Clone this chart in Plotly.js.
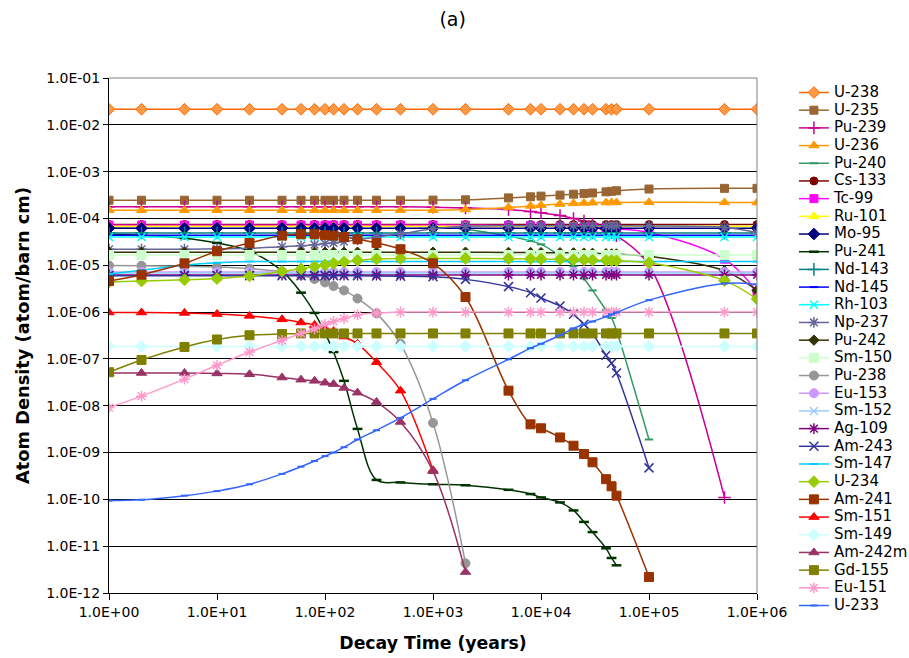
<!DOCTYPE html>
<html><head><meta charset="utf-8">
<script src="https://cdn.plot.ly/plotly-3.0.1.min.js"></script>
<style>html,body{margin:0;padding:0;background:#fff}#chart{width:909px;height:658px}</style>
</head><body><div id="chart"></div>
<script>
// Decay time points (years)
const years = [1,2,5,10,20,40,60,80,100,120,150,200,300,500,1000,2000,5000,8000,10000,15000,20000,25000,30000,40000,45000,50000,100000,500000,1000000];

const U238 = [2.15e-2,2.15e-2,2.15e-2,2.15e-2,2.15e-2,2.15e-2,2.15e-2,2.15e-2,2.15e-2,2.15e-2,2.15e-2,2.15e-2,2.15e-2,2.15e-2,2.15e-2,2.15e-2,2.15e-2,2.15e-2,2.15e-2,2.15e-2,2.15e-2,2.15e-2,2.15e-2,2.15e-2,2.15e-2,2.15e-2,2.15e-2,2.15e-2,2.15e-2];
const U235 = [2.45e-4,2.45e-4,2.45e-4,2.45e-4,2.45e-4,2.45e-4,2.45e-4,2.45e-4,2.45e-4,2.45e-4,2.45e-4,2.45e-4,2.45e-4,2.45e-4,2.47e-4,2.5e-4,2.75e-4,2.9e-4,3.0e-4,3.15e-4,3.3e-4,3.4e-4,3.5e-4,3.7e-4,3.8e-4,3.9e-4,4.25e-4,4.4e-4,4.4e-4];
const Pu239 = [1.78e-4,1.78e-4,1.78e-4,1.78e-4,1.78e-4,1.78e-4,1.78e-4,1.78e-4,1.78e-4,1.78e-4,1.78e-4,1.78e-4,1.78e-4,1.78e-4,1.74e-4,1.68e-4,1.55e-4,1.4e-4,1.32e-4,1.16e-4,1.0e-4,8.8e-5,7.6e-5,5.8e-5,5.0e-5,4.3e-5,1.0e-5,1.1e-10];
const U236 = [1.5e-4,1.5e-4,1.5e-4,1.5e-4,1.5e-4,1.5e-4,1.5e-4,1.5e-4,1.5e-4,1.5e-4,1.5e-4,1.5e-4,1.5e-4,1.5e-4,1.5e-4,1.55e-4,1.72e-4,1.85e-4,1.92e-4,2.03e-4,2.1e-4,2.14e-4,2.17e-4,2.19e-4,2.2e-4,2.2e-4,2.21e-4,2.2e-4,2.18e-4];
const Pu240 = [6.6e-5,6.7e-5,6.8e-5,6.9e-5,7.0e-5,7.0e-5,7.0e-5,7.0e-5,7.0e-5,7.0e-5,7.0e-5,7.0e-5,7.0e-5,6.9e-5,6.6e-5,5.9e-5,4.2e-5,3.3e-5,2.8e-5,1.6e-5,9.5e-6,5.2e-6,2.9e-6,1.1e-6,7.5e-7,4.0e-7,1.9e-9];
const Cs133 = [7.4e-5,7.4e-5,7.4e-5,7.4e-5,7.4e-5,7.4e-5,7.4e-5,7.4e-5,7.4e-5,7.4e-5,7.4e-5,7.4e-5,7.4e-5,7.4e-5,7.4e-5,7.4e-5,7.4e-5,7.4e-5,7.4e-5,7.4e-5,7.4e-5,7.4e-5,7.4e-5,7.4e-5,7.4e-5,7.4e-5,7.4e-5,7.4e-5,7.4e-5];
const Tc99 = [7.2e-5,7.2e-5,7.2e-5,7.2e-5,7.2e-5,7.2e-5,7.2e-5,7.2e-5,7.2e-5,7.2e-5,7.2e-5,7.2e-5,7.2e-5,7.2e-5,7.2e-5,7.2e-5,7.1e-5,7.0e-5,6.9e-5,6.8e-5,6.7e-5,6.5e-5,6.4e-5,6.2e-5,6.1e-5,6.0e-5,5.0e-5,1.35e-5,2.7e-6];
const Ru101 = [6.8e-5,6.8e-5,6.8e-5,6.8e-5,6.8e-5,6.8e-5,6.8e-5,6.8e-5,6.8e-5,6.8e-5,6.8e-5,6.8e-5,6.8e-5,6.8e-5,6.8e-5,6.8e-5,6.8e-5,6.8e-5,6.8e-5,6.8e-5,6.8e-5,6.8e-5,6.8e-5,6.8e-5,6.8e-5,6.8e-5,6.8e-5,6.8e-5,6.8e-5];
const Mo95 = [6.2e-5,6.2e-5,6.2e-5,6.2e-5,6.2e-5,6.2e-5,6.2e-5,6.2e-5,6.2e-5,6.2e-5,6.2e-5,6.2e-5,6.2e-5,6.2e-5,6.2e-5,6.2e-5,6.2e-5,6.2e-5,6.2e-5,6.2e-5,6.2e-5,6.2e-5,6.2e-5,6.2e-5,6.2e-5,6.2e-5,6.2e-5,6.2e-5,6.2e-5];
const Pu241 = [4.6e-5,4.4e-5,3.8e-5,3.0e-5,2.0e-5,7.5e-6,2.6e-6,9.6e-7,3.6e-7,1.4e-7,3.4e-8,3.2e-9,2.6e-10,2.3e-10,2.1e-10,2.0e-10,1.6e-10,1.3e-10,1.1e-10,8.6e-11,5.8e-11,3.3e-11,2.0e-11,9e-12,5.6e-12,3.9e-12];
const Nd143 = [4.9e-5,4.9e-5,4.9e-5,4.9e-5,4.9e-5,4.9e-5,4.9e-5,4.9e-5,4.9e-5,4.9e-5,4.9e-5,4.9e-5,4.9e-5,4.9e-5,4.9e-5,4.9e-5,4.9e-5,4.9e-5,4.9e-5,4.9e-5,4.9e-5,4.9e-5,4.9e-5,4.9e-5,4.9e-5,4.9e-5,4.9e-5,4.9e-5,4.9e-5];
const Nd145 = [4.4e-5,4.4e-5,4.4e-5,4.4e-5,4.4e-5,4.4e-5,4.4e-5,4.4e-5,4.4e-5,4.4e-5,4.4e-5,4.4e-5,4.4e-5,4.4e-5,4.4e-5,4.4e-5,4.4e-5,4.4e-5,4.4e-5,4.4e-5,4.4e-5,4.4e-5,4.4e-5,4.4e-5,4.4e-5,4.4e-5,4.4e-5,4.4e-5,4.4e-5];
const Rh103 = [4.0e-5,4.0e-5,4.0e-5,4.0e-5,4.0e-5,4.0e-5,4.0e-5,4.0e-5,4.0e-5,4.0e-5,4.0e-5,4.0e-5,4.0e-5,4.0e-5,4.0e-5,4.0e-5,4.0e-5,4.0e-5,4.0e-5,4.0e-5,4.0e-5,4.0e-5,4.0e-5,4.0e-5,4.0e-5,4.0e-5,4.0e-5,4.0e-5,4.0e-5];
const Np237 = [2.2e-5,2.2e-5,2.2e-5,2.25e-5,2.3e-5,2.5e-5,2.6e-5,2.75e-5,2.9e-5,3.0e-5,3.2e-5,3.5e-5,4.0e-5,4.7e-5,6.0e-5,6.8e-5,7.0e-5,7.0e-5,7.0e-5,7.0e-5,7.0e-5,7.0e-5,7.0e-5,7.0e-5,7.0e-5,7.0e-5,6.9e-5,6.4e-5,5.0e-5];
const Pu242 = [1.9e-5,1.9e-5,1.9e-5,1.9e-5,1.9e-5,1.9e-5,1.9e-5,1.9e-5,1.9e-5,1.9e-5,1.9e-5,1.9e-5,1.9e-5,1.9e-5,1.9e-5,1.9e-5,1.88e-5,1.87e-5,1.86e-5,1.85e-5,1.84e-5,1.82e-5,1.8e-5,1.77e-5,1.75e-5,1.74e-5,1.55e-5,7.6e-6,2.9e-6];
const Sm150 = [1.66e-5,1.66e-5,1.66e-5,1.66e-5,1.66e-5,1.66e-5,1.66e-5,1.66e-5,1.66e-5,1.66e-5,1.66e-5,1.66e-5,1.66e-5,1.66e-5,1.66e-5,1.66e-5,1.66e-5,1.66e-5,1.66e-5,1.66e-5,1.66e-5,1.66e-5,1.66e-5,1.66e-5,1.66e-5,1.66e-5,1.66e-5,1.66e-5,1.66e-5];
const Pu238 = [9.9e-6,9.8e-6,9.5e-6,9.2e-6,8.5e-6,7.3e-6,6.1e-6,5.1e-6,4.3e-6,3.6e-6,2.9e-6,1.95e-6,9.4e-7,2.1e-7,4.3e-9,4.3e-12];
const Eu153 = [7.2e-6,7.2e-6,7.2e-6,7.2e-6,7.2e-6,7.2e-6,7.2e-6,7.2e-6,7.2e-6,7.2e-6,7.2e-6,7.2e-6,7.2e-6,7.2e-6,7.2e-6,7.2e-6,7.2e-6,7.2e-6,7.2e-6,7.2e-6,7.2e-6,7.2e-6,7.2e-6,7.2e-6,7.2e-6,7.2e-6,7.2e-6,7.2e-6,7.2e-6];
const Sm152 = [6.8e-6,6.8e-6,6.8e-6,6.8e-6,6.8e-6,6.8e-6,6.8e-6,6.8e-6,6.8e-6,6.8e-6,6.8e-6,6.8e-6,6.8e-6,6.8e-6,6.8e-6,6.8e-6,6.8e-6,6.8e-6,6.8e-6,6.8e-6,6.8e-6,6.8e-6,6.8e-6,6.8e-6,6.8e-6,6.8e-6,6.8e-6,6.8e-6,6.8e-6];
const Ag109 = [6.2e-6,6.2e-6,6.2e-6,6.2e-6,6.2e-6,6.2e-6,6.2e-6,6.2e-6,6.2e-6,6.2e-6,6.2e-6,6.2e-6,6.2e-6,6.2e-6,6.2e-6,6.2e-6,6.2e-6,6.2e-6,6.2e-6,6.2e-6,6.2e-6,6.2e-6,6.2e-6,6.2e-6,6.2e-6,6.2e-6,6.2e-6,6.2e-6,6.2e-6];
const Am243 = [6.0e-6,6.0e-6,6.0e-6,6.0e-6,6.0e-6,6.0e-6,6.0e-6,6.0e-6,6.0e-6,6.0e-6,6.0e-6,5.95e-6,5.9e-6,5.85e-6,5.7e-6,5.0e-6,3.5e-6,2.6e-6,2.0e-6,1.35e-6,9.0e-7,5.5e-7,3.5e-7,1.2e-7,8.1e-8,5.0e-8,4.7e-10];
const Sm147 = [6.5e-6,7.8e-6,1.0e-5,1.13e-5,1.2e-5,1.2e-5,1.2e-5,1.2e-5,1.2e-5,1.2e-5,1.2e-5,1.2e-5,1.2e-5,1.2e-5,1.2e-5,1.2e-5,1.2e-5,1.2e-5,1.2e-5,1.2e-5,1.2e-5,1.2e-5,1.2e-5,1.2e-5,1.2e-5,1.2e-5,1.2e-5,1.2e-5,1.2e-5];
const U234 = [4.4e-6,4.6e-6,4.9e-6,5.2e-6,5.9e-6,7.4e-6,8.4e-6,9.4e-6,1.02e-5,1.1e-5,1.17e-5,1.27e-5,1.36e-5,1.4e-5,1.4e-5,1.4e-5,1.38e-5,1.37e-5,1.36e-5,1.34e-5,1.32e-5,1.3e-5,1.29e-5,1.27e-5,1.26e-5,1.25e-5,1.13e-5,4.7e-6,1.9e-6];
const Am241 = [4.6e-6,6.3e-6,1.1e-5,2.0e-5,3.0e-5,4.3e-5,4.6e-5,4.6e-5,4.4e-5,4.3e-5,4.0e-5,3.6e-5,3.0e-5,2.2e-5,1.1e-5,2.1e-6,2.1e-8,4.0e-9,3.3e-9,2.1e-9,1.4e-9,9.3e-10,6.2e-10,2.7e-10,1.9e-10,1.2e-10,2.2e-12];
const Sm151 = [9.8e-7,9.8e-7,9.6e-7,9.1e-7,8.3e-7,7.0e-7,6.0e-7,5.3e-7,4.6e-7,3.9e-7,3.0e-7,2.1e-7,8.5e-8,2.1e-8,4.2e-10];
const Sm149 = [1.85e-7,1.85e-7,1.85e-7,1.85e-7,1.85e-7,1.85e-7,1.85e-7,1.85e-7,1.85e-7,1.85e-7,1.85e-7,1.85e-7,1.85e-7,1.85e-7,1.85e-7,1.85e-7,1.85e-7,1.85e-7,1.85e-7,1.85e-7,1.85e-7,1.85e-7,1.85e-7,1.85e-7,1.85e-7,1.85e-7,1.85e-7,1.85e-7,1.85e-7];
const Am242m = [5.0e-8,5.0e-8,5.0e-8,4.9e-8,4.7e-8,4.0e-8,3.6e-8,3.4e-8,3.1e-8,2.9e-8,2.4e-8,1.9e-8,1.2e-8,4.5e-9,4.0e-10,2.8e-12];
const Gd155 = [5.2e-8,9.5e-8,1.8e-7,2.6e-7,3.2e-7,3.4e-7,3.5e-7,3.5e-7,3.5e-7,3.5e-7,3.5e-7,3.5e-7,3.5e-7,3.5e-7,3.5e-7,3.5e-7,3.5e-7,3.5e-7,3.5e-7,3.5e-7,3.5e-7,3.5e-7,3.5e-7,3.5e-7,3.5e-7,3.5e-7,3.5e-7,3.5e-7,3.5e-7];
const Eu151 = [9.1e-9,1.6e-8,3.7e-8,7.3e-8,1.4e-7,2.5e-7,3.5e-7,4.4e-7,5.5e-7,6.3e-7,7.3e-7,8.7e-7,9.5e-7,1.0e-6,1.0e-6,1.0e-6,1.0e-6,1.0e-6,1.0e-6,1.0e-6,1.0e-6,1.0e-6,1.0e-6,1.0e-6,1.0e-6,1.0e-6,1.0e-6,1.0e-6,1.0e-6];
const U233 = [9.4e-11,9.8e-11,1.2e-10,1.5e-10,2.1e-10,3.5e-10,5.0e-10,6.6e-10,8.4e-10,1.0e-9,1.3e-9,1.9e-9,3.0e-9,5.5e-9,1.4e-8,3.5e-8,9.8e-8,1.7e-7,2.1e-7,3.2e-7,4.5e-7,5.5e-7,6.3e-7,8.0e-7,8.9e-7,9.8e-7,1.8e-6,4.1e-6,3.9e-6];

const seriesNames = ['U-238','U-235','Pu-239','U-236','Pu-240','Cs-133','Tc-99','Ru-101','Mo-95','Pu-241','Nd-143','Nd-145','Rh-103','Np-237','Pu-242','Sm-150','Pu-238','Eu-153','Sm-152','Ag-109','Am-243','Sm-147','U-234','Am-241','Sm-151','Sm-149','Am-242m','Gd-155','Eu-151','U-233'];
const seriesValues = [U238,U235,Pu239,U236,Pu240,Cs133,Tc99,Ru101,Mo95,Pu241,Nd143,Nd145,Rh103,Np237,Pu242,Sm150,Pu238,Eu153,Sm152,Ag109,Am243,Sm147,U234,Am241,Sm151,Sm149,Am242m,Gd155,Eu151,U233];

const yTickVals = [1e-12,1e-11,1e-10,1e-9,1e-8,1e-7,1e-6,1e-5,1e-4,1e-3,1e-2,1e-1];
const yTickText = ['1.0E-12','1.0E-11','1.0E-10','1.0E-09','1.0E-08','1.0E-07','1.0E-06','1.0E-05','1.0E-04','1.0E-03','1.0E-02','1.0E-01'];
const xTickVals = [1,10,100,1000,10000,100000,1000000];
const xTickText = ['1.0E+00','1.0E+01','1.0E+02','1.0E+03','1.0E+04','1.0E+05','1.0E+06'];

// styles: line colour, symbol, fill, marker outline, size, outline width
const styles = [
  {c:'#FF6600', s:'diamond', f:'#FF9944', o:'#FF6600', z:9, w:1},
  {c:'#996633', s:'square', f:'#996633', o:'#996633', z:8, w:1},
  {c:'#CC0099', s:'cross-thin', f:'#CC0099', o:'#CC0099', z:9, w:1.5},
  {c:'#FF9900', s:'triangle-up', f:'#FF9900', o:'#FF9900', z:9, w:1},
  {c:'#339966', s:'line-ew', f:'#339966', o:'#339966', z:6, w:2},
  {c:'#800000', s:'circle', f:'#800000', o:'#800000', z:8, w:1},
  {c:'#FF00FF', s:'square', f:'#FF00FF', o:'#FF00FF', z:8, w:1},
  {c:'#FFFF00', s:'triangle-up', f:'#FFFF00', o:'#FFFF00', z:9, w:1},
  {c:'#000080', s:'diamond', f:'#000080', o:'#000080', z:9, w:1},
  {c:'#003300', s:'line-ew', f:'#003300', o:'#003300', z:7, w:2.5},
  {c:'#008080', s:'cross-thin', f:'#008080', o:'#008080', z:9, w:1.5},
  {c:'#0000FF', s:'line-ew', f:'#0000FF', o:'#0000FF', z:6, w:2},
  {c:'#00FFFF', s:'x-thin', f:'#00FFFF', o:'#00FFFF', z:8, w:1.5},
  {c:'#666699', s:'asterisk', f:'#666699', o:'#666699', z:9, w:1.5},
  {c:'#333300', s:'diamond', f:'#333300', o:'#333300', z:8, w:1},
  {c:'#CCFFCC', s:'square', f:'#CCFFCC', o:'#CCFFCC', z:9, w:1},
  {c:'#969696', s:'circle', f:'#969696', o:'#969696', z:9, w:1},
  {c:'#CC99FF', s:'circle', f:'#CC99FF', o:'#CC99FF', z:9, w:1},
  {c:'#99CCFF', s:'x-thin', f:'#99CCFF', o:'#99CCFF', z:8, w:1.5},
  {c:'#800080', s:'asterisk', f:'#800080', o:'#800080', z:9, w:1.5},
  {c:'#333399', s:'x-thin', f:'#333399', o:'#333399', z:9, w:1.5},
  {c:'#00CCFF', s:'line-ew', f:'#00CCFF', o:'#00CCFF', z:6, w:2},
  {c:'#99CC00', s:'diamond', f:'#99CC00', o:'#99CC00', z:9, w:1},
  {c:'#993300', s:'square', f:'#993300', o:'#993300', z:9, w:1},
  {c:'#FF0000', s:'triangle-up', f:'#FF0000', o:'#FF0000', z:9, w:1},
  {c:'#CCFFFF', s:'diamond', f:'#CCFFFF', o:'#CCFFFF', z:9, w:1},
  {c:'#993366', s:'triangle-up', f:'#993366', o:'#993366', z:9, w:1},
  {c:'#808000', s:'square', f:'#808000', o:'#808000', z:9, w:1},
  {c:'#FF99CC', s:'asterisk', f:'#FF99CC', o:'#FF99CC', z:9, w:1.5},
  {c:'#3366FF', s:'line-ew', f:'#3366FF', o:'#3366FF', z:5, w:2}
];

const FONT = 'DejaVu Sans, Arial, sans-serif';
const traces = seriesNames.map((name, i) => {
  const vals = seriesValues[i];
  const st = styles[i];
  return {
    type: 'scatter', mode: 'lines+markers',
    name: '<span style="font-size:15px">' + name + '</span>',
    x: years.slice(0, vals.length), y: vals,
    line: {color: st.c, width: 1.5, shape: 'spline', smoothing: 1},
    marker: {symbol: st.s, size: st.z, color: st.f, line: {color: st.o, width: st.w}},
    cliponaxis: true
  };
});

const layout = {
  width: 909, height: 658,
  paper_bgcolor: '#ffffff', plot_bgcolor: '#ffffff',
  margin: {l: 109, r: 152, t: 78, b: 65, autoexpand: false},
  font: {family: FONT, color: '#000'},
  title: {text: '(a)', font: {family: FONT, size: 19, color: '#000'}, x: 0.498, xref: 'container', xanchor: 'center', y: 1 - 19/658, yref: 'container', yanchor: 'middle'},
  showlegend: true,
  legend: {x: 1.057, xanchor: 'left', y: 1.0, yanchor: 'top', maxheight: 640, font: {family: FONT, size: 11.3, color: '#000'}, bgcolor: 'rgba(0,0,0,0)', borderwidth: 0, tracegroupgap: 0, itemwidth: 30},
  xaxis: {
    type: 'log', range: [0, 6], tickvals: xTickVals, ticktext: xTickText,
    ticks: 'outside', ticklen: 6, tickcolor: '#000', tickwidth: 1,
    showline: true, linecolor: '#000', linewidth: 1, showgrid: false, zeroline: false,
    tickfont: {family: FONT, size: 14, color: '#000'},
    title: {text: '<b>Decay Time (years)</b>', font: {family: FONT, size: 17.3, color: '#000'}, standoff: 18}
  },
  yaxis: {
    type: 'log', range: [-12, -1], tickvals: yTickVals, ticktext: yTickText,
    ticks: 'outside', ticklen: 5, tickcolor: '#000', tickwidth: 1,
    showline: true, linecolor: '#000', linewidth: 1, showgrid: true, gridcolor: '#000', gridwidth: 1, zeroline: false,
    tickfont: {family: FONT, size: 14, color: '#000'},
    title: {text: '<b>Atom Density (atom/barn cm)</b>', font: {family: FONT, size: 17.8, color: '#000'}, standoff: 11}
  },
  shapes: [
    {type: 'line', xref: 'paper', yref: 'paper', x0: 0, x1: 1, y0: 1, y1: 1, line: {color: '#808080', width: 1}},
    {type: 'line', xref: 'paper', yref: 'paper', x0: 1, x1: 1, y0: 0, y1: 1, line: {color: '#808080', width: 1}}
  ]
};

const LEGEND_STEP = 17.69; // vertical spacing of legend rows in the reference
Plotly.newPlot('chart', traces, layout, {displayModeBar: false, staticPlot: true}).then(gd => {
  const items = gd.querySelectorAll('.legend .traces');
  let y0 = null;
  items.forEach((el, i) => {
    const t = el.getAttribute('transform') || '';
    const m = /translate\(\s*([-\d.e]+)[\s,]+([-\d.e]+)\s*\)/.exec(t);
    if (!m) return;
    const x = parseFloat(m[1]);
    const y = parseFloat(m[2]);
    if (y0 === null) y0 = y;
    el.setAttribute('transform', 'translate(' + x + ',' + (y0 + i * LEGEND_STEP) + ')');
  });
});
</script>
</body></html>
